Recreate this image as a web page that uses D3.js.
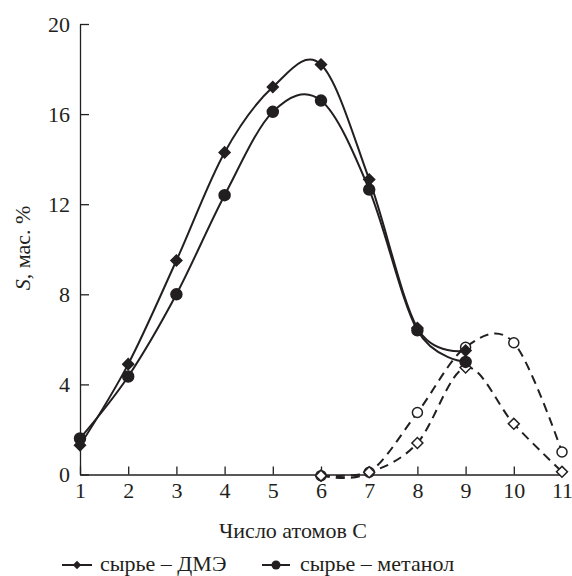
<!DOCTYPE html>
<html>
<head>
<meta charset="utf-8">
<script src="https://cdn.jsdelivr.net/npm/d3@7"></script>
<style>
	svg text { font-family: "Liberation Serif", Tinos, "Times New Roman", serif; }
</style>
</head>
<body style="margin:0">
<svg id="chart" width="572" height="576"></svg>
<script>
// data
const carbonAtoms = [1, 2, 3, 4, 5, 6, 7, 8, 9];
const dmeValues = [1.3, 4.9, 9.5, 14.3, 17.2, 18.2, 13.1, 6.5, 5.5];
const methanolValues = [1.6, 4.35, 8.0, 12.4, 16.1, 16.6, 12.65, 6.4, 5.0];

const dashedAtoms = [6, 7, 8, 9, 10, 11];
const dmeDashed = [-0.05, 0.1, 1.4, 4.75, 2.25, 0.12];
const methanolDashed = [-0.05, 0.1, 2.75, 5.65, 5.85, 1.0];

const xTicks = [1, 2, 3, 4, 5, 6, 7, 8, 9, 10, 11];
const yTicks = [0, 4, 8, 12, 16, 20];

const ink = "#231f20";
const fontName = "Liberation Serif";

const svg = d3.select("#chart");

const x = d3.scaleLinear().domain([1, 11]).range([80, 562]);
const y = d3.scaleLinear().domain([0, 20]).range([474.5, 24]);

// axes
const xAxis = d3.axisBottom(x).tickValues(xTicks).tickSizeInner(-8).tickSizeOuter(0).tickPadding(7);
const yAxis = d3.axisLeft(y).tickValues(yTicks).tickSizeInner(-9).tickSizeOuter(0).tickPadding(10);

const gx = svg.append("g").attr("transform", "translate(0," + y(0) + ")").call(xAxis);
const gy = svg.append("g").attr("transform", "translate(" + x(1) + ",0)").call(yAxis);

for (const g of [gx, gy]) {
	g.attr("font-family", fontName).attr("font-size", 22);
	g.select(".domain").attr("stroke", ink).attr("stroke-width", 1.3);
	g.selectAll(".tick line").attr("stroke", ink).attr("stroke-width", 1.3);
	g.selectAll(".tick text").attr("font-family", fontName).attr("font-size", 22).attr("fill", ink);
}
gx.selectAll(".tick text").attr("dy", "0.75em");

// axis titles
svg.append("text")
	.attr("x", 293).attr("y", 538)
	.attr("text-anchor", "middle")
	.attr("font-family", fontName)
	.attr("font-size", 22)
	.attr("fill", ink)
	.text("Число атомов С");

const yTitle = svg.append("text")
	.attr("transform", "translate(30,248) rotate(-90)")
	.attr("text-anchor", "middle")
	.attr("font-family", fontName)
	.attr("font-size", 22)
	.attr("fill", ink);
yTitle.append("tspan").attr("font-style", "italic").text("S");
yTitle.append("tspan").text(", мас. %");

// lines (smoothed like the original)
const line = d3.line()
	.x(function(d) { return x(d[0]); })
	.y(function(d) { return y(d[1]); })
	.curve(d3.curveCatmullRom.alpha(0));

function drawSeries(xs, ys, dashed) {
	svg.append("path")
		.datum(d3.zip(xs, ys))
		.attr("d", line)
		.attr("fill", "none")
		.attr("stroke", ink)
		.attr("stroke-width", 2)
		.attr("stroke-dasharray", dashed ? "9,6" : null);
}

drawSeries(dashedAtoms, dmeDashed, true);
drawSeries(dashedAtoms, methanolDashed, true);
drawSeries(carbonAtoms, dmeValues, false);
drawSeries(carbonAtoms, methanolValues, false);

const diamond = d3.symbol().type(d3.symbolSquare).size(60);

function drawDiamonds(xs, ys, filled) {
	svg.append("g").selectAll("path")
		.data(d3.zip(xs, ys))
		.join("path")
		.attr("d", diamond)
		.attr("transform", function(d) { return "translate(" + x(d[0]) + "," + y(d[1]) + ") rotate(45)"; })
		.attr("fill", filled ? ink : "#fff")
		.attr("stroke", ink)
		.attr("stroke-width", 1.5);
}

function drawCircles(xs, ys, filled) {
	svg.append("g").selectAll("circle")
		.data(d3.zip(xs, ys))
		.join("circle")
		.attr("cx", function(d) { return x(d[0]); })
		.attr("cy", function(d) { return y(d[1]); })
		.attr("r", filled ? 5.5 : 5)
		.attr("fill", filled ? ink : "#fff")
		.attr("stroke", ink)
		.attr("stroke-width", 1.5);
}

drawCircles(dashedAtoms, methanolDashed, false);
drawDiamonds(dashedAtoms, dmeDashed, false);
drawCircles(carbonAtoms, methanolValues, true);
drawDiamonds(carbonAtoms, dmeValues, true);

// legend
const legend = svg.append("g").attr("transform", "translate(0,565)");
legend.append("line").attr("x1", 62).attr("x2", 92).attr("y1", 0).attr("y2", 0).attr("stroke", ink).attr("stroke-width", 2);
legend.append("path").attr("d", d3.symbol().type(d3.symbolSquare).size(36)).attr("transform", "translate(77,0) rotate(45)").attr("fill", ink);
legend.append("text").attr("x", 100).attr("y", 6).attr("font-family", fontName).attr("font-size", 22).attr("fill", ink).text("сырье – ДМЭ");
legend.append("line").attr("x1", 262).attr("x2", 290).attr("y1", 0).attr("y2", 0).attr("stroke", ink).attr("stroke-width", 2);
legend.append("circle").attr("cx", 276).attr("cy", 0).attr("r", 4.5).attr("fill", ink);
legend.append("text").attr("x", 300).attr("y", 6).attr("font-family", fontName).attr("font-size", 22).attr("fill", ink).text("сырье – метанол");
</script>
</body>
</html>
